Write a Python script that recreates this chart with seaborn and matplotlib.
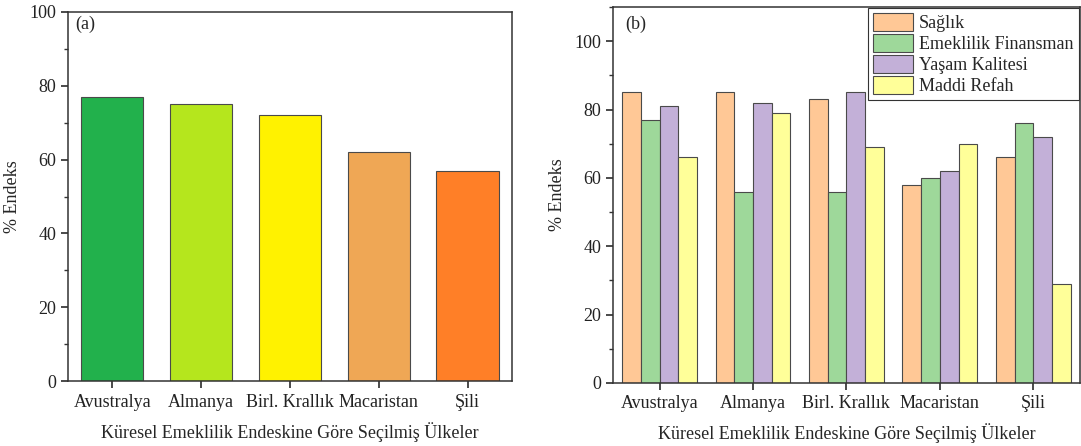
import numpy as np
import pandas as pd
import matplotlib
matplotlib.use("Agg")
import matplotlib.pyplot as plt
from matplotlib.ticker import MultipleLocator
import seaborn as sns

# ── Data ──────────────────────────────────────────────────────────────────────

countries = ["Avustralya", "Almanya", "Birl. Krallık", "Macaristan", "Şili"]
overall = [77, 75, 72, 62, 57]
overall_colors = ["#22b14c", "#b5e61d", "#fff200", "#efa755", "#ff7f27"]

metrics = ["Sağlık", "Emeklilik Finansman", "Yaşam Kalitesi", "Maddi Refah"]
saglik = [85, 85, 83, 58, 66]
finansman = [77, 56, 56, 60, 76]
yasam = [81, 82, 85, 62, 72]
refah = [66, 79, 69, 70, 29]
metric_colors = ["#ffc896", "#9ed89a", "#c3b0d8", "#ffff99"]

xlabel = "Küresel Emeklilik Endeskine Göre Seçilmiş Ülkeler"
ylabel = "% Endeks"

# ── Style ─────────────────────────────────────────────────────────────────────

sns.set_theme(style="ticks")
FS = 13
plt.rcParams.update({
    "font.family": ["Liberation Serif", "DejaVu Serif"],
    "font.size": FS,
    "axes.edgecolor": "#333333",
    "axes.linewidth": 1.1,
    "xtick.color": "#333333",
    "ytick.color": "#333333",
    "xtick.labelcolor": "#222222",
    "ytick.labelcolor": "#222222",
    "xtick.labelsize": FS,
    "ytick.labelsize": FS,
    "xtick.major.size": 5,
    "ytick.major.size": 5,
    "ytick.minor.size": 3,
    "xtick.direction": "out",
    "ytick.direction": "out",
})

fig = plt.figure(figsize=(10.81, 4.46), dpi=100)
ax_a = fig.add_axes([0.0629, 0.1457, 0.4107, 0.8274])
ax_b = fig.add_axes([0.567, 0.1413, 0.432, 0.843])

# — (a) overall index
sns.barplot(x=countries, y=overall, hue=countries, palette=overall_colors,
            legend=False, width=0.7, saturation=1, edgecolor="#4a4a4a",
            linewidth=0.8, ax=ax_a)
ax_a.set_ylim(0, 100)
ax_a.yaxis.set_major_locator(MultipleLocator(20))
ax_a.yaxis.set_minor_locator(MultipleLocator(10))
ax_a.text(0.016, 0.967, "(a)", transform=ax_a.transAxes, va="center",
          ha="left", fontsize=FS)

# — (b) sub-indices
df = pd.DataFrame({
    "Ülke": countries * 4,
    "Alt": np.repeat(metrics, len(countries)),
    "Değer": saglik + finansman + yasam + refah,
})
sns.barplot(data=df, x="Ülke", y="Değer", hue="Alt", hue_order=metrics,
            palette=metric_colors, width=0.8, saturation=1,
            edgecolor="#4a4a4a", linewidth=0.8, ax=ax_b)
ax_b.set_ylim(0, 110)
ax_b.yaxis.set_major_locator(MultipleLocator(20))
ax_b.yaxis.set_minor_locator(MultipleLocator(10))
ax_b.text(0.026, 0.955, "(b)", transform=ax_b.transAxes, va="center",
          ha="left", fontsize=FS)

leg = ax_b.legend(loc="upper right", borderaxespad=0.05, fontsize=FS,
                  handlelength=2.2, handleheight=1.15, labelspacing=0.1,
                  handletextpad=0.35, borderpad=0.3, fancybox=False,
                  framealpha=1, edgecolor="#333333", title=None)
leg.get_frame().set_linewidth(0.8)

for ax in (ax_a, ax_b):
    ax.set_xlim(-0.5, 4.5)
    ax.set_xlabel(xlabel, fontsize=FS, labelpad=8)
    ax.set_ylabel(ylabel, fontsize=FS, labelpad=6)
    ax.tick_params(axis="x", pad=4)
    ax.tick_params(axis="y", which="both", right=False)
    for s in ax.spines.values():
        s.set_visible(True)

fig.savefig("out.png", dpi=100)
